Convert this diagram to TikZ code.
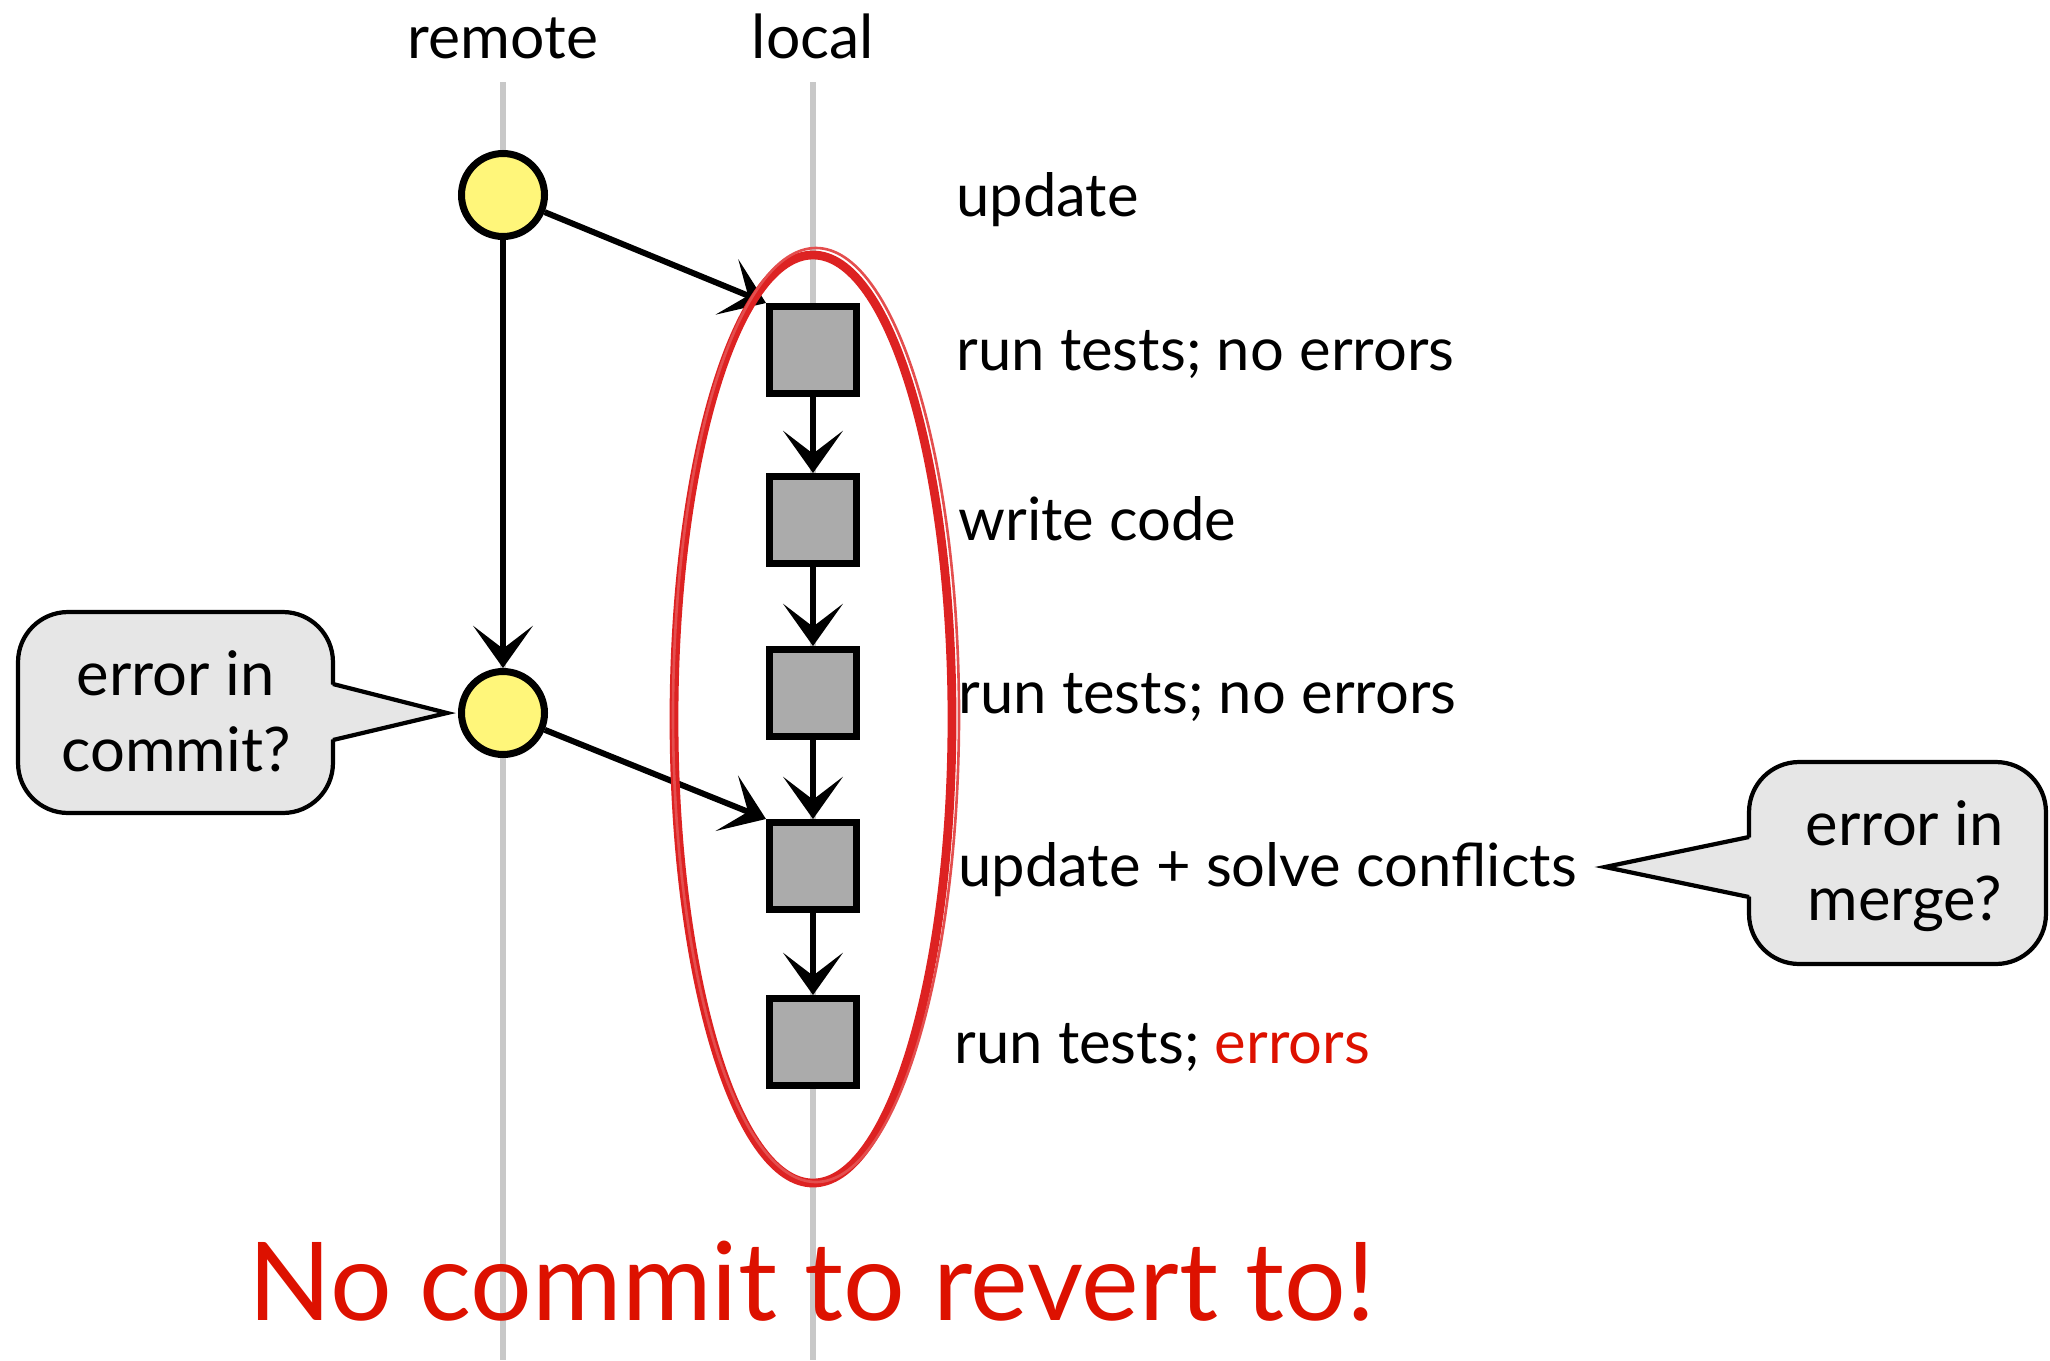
\documentclass[tikz,border=0pt]{standalone}
\usepackage{fontspec}
\setmainfont{Lato}
\usetikzlibrary{arrows.meta}
\definecolor{cyel}{HTML}{FFF67A}
\definecolor{csq}{HTML}{ABABAB}
\definecolor{cred}{HTML}{DD1100}
\definecolor{cring}{HTML}{DD2222}
\definecolor{clane}{HTML}{C8C8C8}
\definecolor{cbub}{HTML}{E6E6E6}
\begin{document}
\begin{tikzpicture}[x=0.02cm,y=-0.02cm,
  lane/.style={line width=3.4pt, draw=clane},
  commit/.style={circle, draw=black, fill=cyel, line width=4pt, minimum size=1.66cm, inner sep=0pt},
  work/.style={rectangle, draw=black, fill=csq, line width=4pt, minimum size=1.74cm, inner sep=0pt},
  flow/.style={line width=3.4pt, -{Stealth[length=24pt,width=34pt,inset=13pt]}},
  lbl/.style={anchor=base west, inner sep=0pt, font=\fontsize{34}{40}\selectfont},
  head/.style={anchor=base, inner sep=0pt, font=\fontsize{34.5}{40}\selectfont},
  bubbox/.style={draw=black, fill=cbub, line width=2.4pt, rounded corners=1cm, inner sep=0pt},
  bubline/.style={line width=2.4pt, line join=miter},
  bubtext/.style={anchor=base, inner sep=0pt, font=\fontsize{35}{40}\selectfont},
  ring/.style={draw=cring, line width=5pt},
]
\useasboundingbox (0,0) rectangle (2050,1360);

% lanes
\coordinate (rtop) at (503,82);
\coordinate (rbot) at (503,1360);
\coordinate (ltop) at (813,82);
\coordinate (lbot) at (813,1360);
\draw[lane] (rtop) -- (rbot);
\draw[lane] (ltop) -- (lbot);

% headers
\node[head] (hr) at (503,58) {remote};
\node[head] (hl) at (813,58) {local};

% commits
\node[commit] (c1) at (503,195) {};
\node[commit] (c2) at (503,713) {};
\node[work] (s1) at (813,350) {};
\node[work] (s2) at (813,520) {};
\node[work] (s3) at (813,693) {};
\node[work] (s4) at (813,866) {};
\node[work] (s5) at (813,1042) {};

% connectors
\draw[flow] (c1) -- (c2);
\draw[flow] (c1) -- (s1.north west);
\draw[flow] (c2) -- (s4.north west);
\draw[flow] (s1) -- (s2);
\draw[flow] (s2) -- (s3);
\draw[flow] (s3) -- (s4);
\draw[flow] (s4) -- (s5);

% red ring
\draw[ring] (813,719) ellipse [x radius=139, y radius=464];
\draw[draw=cring!80, line width=1.5pt] (816,715) ellipse [x radius=143, y radius=467];

% labels
\node[lbl] (l0) at (956,216) {update};
\node[lbl] (l1) at (956,370) {run tests; no errors};
\node[lbl] (l2) at (958,540) {write code};
\node[lbl] (l3) at (958,713) {run tests; no errors};
\node[lbl] (l4) at (958,886) {update + solve conflicts};
\node[lbl] (l5) at (954,1063) {run tests; \textcolor{cred}{errors}};

% left callout
\node[bubbox, minimum width=6.3cm, minimum height=4.02cm] (bl) at (175.5,712.5) {};
\coordinate (blt) at (447,713);
\fill[cbub] (329,684) -- (blt) -- (329,740) -- cycle;
\draw[bubline] (333,684) -- (blt) -- (333,740);
\node[bubtext] (tl1) at (176,695) {error in};
\node[bubtext] (tl2) at (176,771) {commit?};

% right callout
\node[bubbox, minimum width=5.94cm, minimum height=4.04cm] (br) at (1897.5,863) {};
\coordinate (brt) at (1605,867);
\fill[cbub] (1753,837) -- (brt) -- (1753,897) -- cycle;
\draw[bubline] (1749,837) -- (brt) -- (1749,897);
\node[bubtext] (tr1) at (1905,845) {error in};
\node[bubtext] (tr2) at (1905,920) {merge?};

% bottom message
\node[anchor=base, inner sep=0pt, text=cred, font=\fontsize{62}{68}\selectfont] (msg) at (812,1320) {No commit to revert to!};
\end{tikzpicture}
\end{document}
